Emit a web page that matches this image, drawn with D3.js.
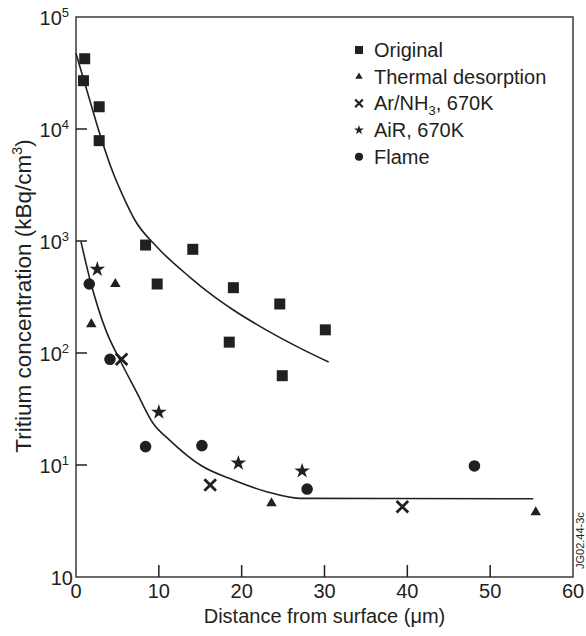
<!DOCTYPE html>
<html>
<head>
<meta charset="utf-8">
<script src="https://cdn.jsdelivr.net/npm/d3@7"></script>
<style>
  body { margin: 0; background: #fff; }
  svg text { font-family: "Liberation Sans", Arial, sans-serif; fill: #231f20; }
</style>
</head>
<body>
<svg id="chart" width="586" height="636"></svg>
<script>
// ---- data ----
var originalX = [1.05, 0.9, 2.8, 2.8, 8.4, 14.1, 9.8, 19.0, 24.6, 30.1, 18.5, 24.9];
var originalY = [42400, 27000, 15800, 7870, 920, 843, 413, 383, 274, 161, 125, 62.7];

var thermalX = [1.85, 4.75, 23.6, 55.5];
var thermalY = [181, 413, 4.55, 3.78];

var arnhX = [5.5, 16.2, 39.4];
var arnhY = [87.9, 6.63, 4.24];

var airX = [2.57, 10.0, 19.6, 27.3];
var airY = [559, 29.6, 10.4, 8.84];

var flameX = [1.6, 4.1, 8.4, 15.2, 27.9, 48.1];
var flameY = [413, 87.9, 14.6, 14.9, 6.1, 9.8];

// fitted curves drawn by hand in the original
var upperCurveX = [0, 1.3, 3.1, 4.5, 5.9, 7.1, 9.75, 13.8, 16.2, 19.0, 23.0, 27.1, 30.5];
var upperCurveY = [47400, 22300, 7980, 4020, 2320, 1540, 889, 472, 339, 242, 160, 110, 83];

var lowerCurveX = [0.6, 1.7, 3.6, 5.3, 7.3, 9.3, 11.3, 15.0, 19.0, 23.0, 27.0, 55.2];
var lowerCurveY = [986, 449, 160, 86.6, 45, 23.6, 16.7, 10.0, 7.35, 5.78, 5.04, 5.0];

var xTicks = [0, 10, 20, 30, 40, 50, 60];
var yTicks = [1, 10, 100, 1000, 10000, 100000];
var yTickSup = ["", "1", "2", "3", "4", "5"];

var legendLabels = ["Original", "Thermal desorption", "Ar/NH|3|, 670K", "AiR, 670K", "Flame"];

// ---- layout ----
var ink = "#231f20";
var svg = d3.select("#chart");
var plotL = 76, plotR = 573, plotT = 17, plotB = 577;

var x = d3.scaleLinear().domain([0, 60]).range([plotL, plotR]);
var y = d3.scaleLog().domain([1, 100000]).range([plotB, plotT]);

function zip(xs, ys){ return xs.map(function(d, i){ return [d, ys[i]]; }); }

// -- frame
svg.append("rect").attr("x", plotL).attr("y", plotT)
    .attr("width", plotR - plotL).attr("height", plotB - plotT)
    .attr("fill", "none").attr("stroke", "#3a3a3a").attr("stroke-width", 1.5);

// -- y ticks (inward)
svg.selectAll(".ytick").data(yTicks.slice(1, -1)).enter().append("line")
    .attr("class", "ytick")
    .attr("x1", plotL).attr("x2", plotL + 11)
    .attr("y1", function(d){ return y(d); }).attr("y2", function(d){ return y(d); })
    .attr("stroke", ink).attr("stroke-width", 1.5);

var yLab = svg.selectAll(".ylab").data(yTicks).enter().append("text")
    .attr("class", "ylab")
    .attr("text-anchor", "end")
    .attr("font-size", 20)
    .attr("x", function(d, i){ return i === 0 ? 73 : 69; })
    .attr("y", function(d){ return y(d) + 8; });
yLab.append("tspan").text("10");
yLab.filter(function(d, i){ return i > 0; }).append("tspan")
    .attr("font-size", 13).attr("dy", -8)
    .text(function(d){ return yTickSup[yTicks.indexOf(d)]; });

// -- x ticks (inward)
svg.selectAll(".xtick").data(xTicks.slice(1, -1)).enter().append("line")
    .attr("class", "xtick")
    .attr("x1", function(d){ return x(d); }).attr("x2", function(d){ return x(d); })
    .attr("y1", plotB).attr("y2", plotB - 12)
    .attr("stroke", ink).attr("stroke-width", 1.5);

svg.selectAll(".xlab").data(xTicks).enter().append("text")
    .attr("class", "xlab")
    .attr("text-anchor", "middle")
    .attr("font-size", 20)
    .attr("x", function(d){ return x(d); })
    .attr("y", plotB + 21)
    .text(function(d){ return d; });

// -- axis titles
svg.append("text")
    .attr("text-anchor", "middle").attr("font-size", 20)
    .attr("x", (plotL + plotR) / 2).attr("y", 623)
    .text("Distance from surface (\u03bcm)");

var yt = svg.append("text")
    .attr("text-anchor", "middle").attr("font-size", 22.5)
    .attr("transform", "translate(31,296) rotate(-90)");
yt.append("tspan").text("Tritium concentration (kBq/cm");
yt.append("tspan").attr("font-size", 14).attr("dy", -9).text("3");
yt.append("tspan").attr("dy", 9).text(")");

svg.append("text")
    .attr("font-size", 11)
    .attr("transform", "translate(584,569) rotate(-90)")
    .text("JG02.44-3c");

// -- curves
var line = d3.line()
    .x(function(d){ return x(d[0]); })
    .y(function(d){ return y(d[1]); })
    .curve(d3.curveMonotoneX);

[zip(upperCurveX, upperCurveY), zip(lowerCurveX, lowerCurveY)].forEach(function(c){
    svg.append("path").attr("d", line(c))
        .attr("fill", "none").attr("stroke", ink).attr("stroke-width", 1.6);
});

// -- markers
var series = [
    {pts: zip(originalX, originalY), type: d3.symbolSquare, size: 121, legSize: 64},
    {pts: zip(thermalX, thermalY), type: d3.symbolTriangle, size: 48, legSize: 24},
    {pts: zip(arnhX, arnhY), type: d3.symbolTimes, size: 90, legSize: 40, stroke: true},
    {pts: zip(airX, airY), type: d3.symbolStar, size: 75, legSize: 30},
    {pts: zip(flameX, flameY), type: d3.symbolCircle, size: 106, legSize: 52}
];

function styleMark(sel, s, w){
    if (s.stroke) sel.attr("fill", "none").attr("stroke", ink).attr("stroke-width", w);
    else sel.attr("fill", ink);
}

series.forEach(function(s){
    var m = svg.append("g").selectAll("path").data(s.pts).enter().append("path")
        .attr("d", d3.symbol().type(s.type).size(s.size))
        .attr("transform", function(d){ return "translate(" + x(d[0]) + "," + y(d[1]) + ")"; });
    styleMark(m, s, 2.8);
});

// -- legend
var legend = svg.append("g").attr("transform", "translate(359,57)");
var rows = legend.selectAll(".leg").data(series).enter().append("g")
    .attr("class", "leg")
    .attr("transform", function(d, i){ return "translate(0," + (i * 26.7) + ")"; });

rows.each(function(s){
    var m = d3.select(this).append("path")
        .attr("d", d3.symbol().type(s.type).size(s.legSize))
        .attr("transform", "translate(0,-7)");
    styleMark(m, s, 2.2);
});

rows.append("text")
    .attr("x", 15).attr("y", 0).attr("font-size", 20)
    .each(function(d, i){
        var parts = legendLabels[i].split("|");
        var t = d3.select(this);
        t.append("tspan").text(parts[0]);
        if (parts.length > 1) {
            t.append("tspan").attr("font-size", 13).attr("dy", 5).text(parts[1]);
            t.append("tspan").attr("dy", -5).text(parts[2]);
        }
    });
</script>
</body>
</html>
